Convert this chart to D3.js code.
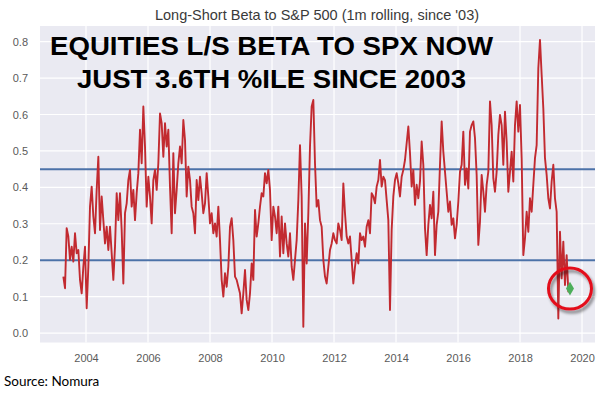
<!DOCTYPE html>
<html>
<head>
<meta charset="utf-8">
<script src="https://cdn.jsdelivr.net/npm/d3@7"></script>
<style>
  body { margin: 0; background: #fff; }
  svg { display: block; }
</style>
</head>
<body>
<div id="chart"></div>
<script>
// rolling long-short beta, sampled roughly every 0.054 yr from Apr 2003
const startYear = 2003.269
const stepYears = 0.05376
const betaValues = [
  0.155, 0.123, 0.288, 0.265, 0.201, 0.237, 0.196, 0.274, 0.219, 0.228,
  0.146, 0.109, 0.182, 0.237, 0.068, 0.182, 0.347, 0.402, 0.320, 0.274,
  0.393, 0.484, 0.283, 0.375, 0.310, 0.246, 0.292, 0.228, 0.292, 0.219,
  0.146, 0.237, 0.384, 0.310, 0.384, 0.283, 0.136, 0.329, 0.356, 0.420,
  0.448, 0.347, 0.393, 0.310, 0.384, 0.439, 0.558, 0.466, 0.622, 0.512,
  0.347, 0.429, 0.375, 0.301, 0.420, 0.448, 0.393, 0.466, 0.603, 0.576,
  0.484, 0.576, 0.512, 0.558, 0.402, 0.274, 0.494, 0.329, 0.393, 0.466,
  0.512, 0.466, 0.585, 0.530, 0.375, 0.457, 0.420, 0.347, 0.329, 0.274,
  0.420, 0.365, 0.429, 0.384, 0.329, 0.356, 0.439, 0.375, 0.301, 0.329,
  0.274, 0.301, 0.265, 0.347, 0.255, 0.146, 0.100, 0.164, 0.127, 0.182,
  // 2009 - 2013
  0.292, 0.315, 0.255, 0.155, 0.146, 0.127, 0.109, 0.054, 0.109, 0.173,
  0.091, 0.063, 0.109, 0.191, 0.146, 0.338, 0.265, 0.301, 0.347, 0.384,
  0.375, 0.439, 0.411, 0.448, 0.393, 0.255, 0.347, 0.320, 0.274, 0.347,
  0.210, 0.320, 0.219, 0.301, 0.246, 0.210, 0.274, 0.182, 0.146, 0.201,
  0.255, 0.365, 0.516, 0.375, 0.017, 0.301, 0.191, 0.329, 0.512, 0.622,
  0.640, 0.466, 0.347, 0.365, 0.310, 0.292, 0.201, 0.155, 0.136, 0.182,
  0.228, 0.246, 0.274, 0.255, 0.246, 0.301, 0.283, 0.255, 0.411, 0.329,
  0.265, 0.246, 0.265, 0.201, 0.136, 0.182, 0.219, 0.191, 0.274, 0.255,
  0.265, 0.237, 0.292, 0.310, 0.274, 0.384, 0.375, 0.356, 0.402, 0.420,
  0.475, 0.402, 0.429, 0.420, 0.365, 0.310, 0.063, 0.283, 0.375, 0.420,
  0.439, 0.411, 0.375, 0.429, 0.448, 0.475, 0.521, 0.567, 0.494, 0.402,
  0.448,
  // 2015 - 2019
  0.352, 0.407, 0.370, 0.416, 0.526, 0.462, 0.288, 0.214, 0.297, 0.352,
  0.315, 0.388, 0.214, 0.297, 0.333, 0.462, 0.581, 0.498, 0.443, 0.388,
  0.333, 0.361, 0.297, 0.315, 0.260, 0.297, 0.361, 0.443, 0.462, 0.553,
  0.407, 0.452, 0.397, 0.553, 0.571, 0.581, 0.535, 0.434, 0.242, 0.306,
  0.434, 0.388, 0.333, 0.407, 0.443, 0.636, 0.571, 0.425, 0.388, 0.443,
  0.544, 0.599, 0.571, 0.462, 0.608, 0.526, 0.388, 0.443, 0.498, 0.416,
  0.571, 0.636, 0.553, 0.626, 0.480, 0.214, 0.260, 0.333, 0.278, 0.370,
  0.333, 0.407, 0.480, 0.516, 0.727, 0.805, 0.709, 0.617, 0.480, 0.434,
  0.370, 0.342, 0.416, 0.462, 0.370, 0.333, 0.040, 0.278, 0.150, 0.251,
  0.132, 0.214, 0.114, 0.122
]
const refLines = [0.2, 0.45]
const yTicks = [0.0, 0.1, 0.2, 0.3, 0.4, 0.5, 0.6, 0.7, 0.8]
const xTicks = [2004, 2006, 2008, 2010, 2012, 2014, 2016, 2018, 2020]
const chartTitle = "Long-Short Beta to S&P 500 (1m rolling, since '03)"
const headline = ["EQUITIES L/S BETA TO SPX NOW", "JUST 3.6TH %ILE SINCE 2003"]
const sourceNote = "Source: Nomura"

const data = betaValues.map((v, i) => ({ year: startYear + i * stepYears, value: v }))
const lastPoint = data[data.length - 1]

const width = 610, height = 397
const margin = { top: 26, right: 15, bottom: 54.5, left: 40 }

const svg = d3.select("#chart").append("svg")
    .attr("width", width)
    .attr("height", height)
    .style("font-family", "'Liberation Sans', Arial, sans-serif")

const x = d3.scaleLinear()
    .domain([2002.516, 2020.419])
    .range([margin.left, width - margin.right])

const y = d3.scaleLinear()
    .domain([-0.026, 0.843])
    .range([height - margin.bottom, margin.top])

// drop shadow for the highlight ring
const defs = svg.append("defs")
defs.append("filter").attr("id", "shadow")
    .attr("x", "-50%").attr("y", "-50%").attr("width", "200%").attr("height", "200%")
    .append("feDropShadow")
    .attr("dx", 2).attr("dy", 3).attr("stdDeviation", 1.8)
    .attr("flood-color", "#000").attr("flood-opacity", 0.45)

// plot background
svg.append("rect")
    .attr("x", margin.left)
    .attr("y", margin.top)
    .attr("width", width - margin.right - margin.left)
    .attr("height", height - margin.bottom - margin.top)
    .attr("fill", "#eaeaf2")

// grid
svg.append("g")
    .selectAll("line")
    .data(yTicks)
    .join("line")
    .attr("x1", margin.left).attr("x2", width - margin.right)
    .attr("y1", d => y(d)).attr("y2", d => y(d))
    .attr("stroke", "#fff").attr("stroke-width", 1.2)

svg.append("g")
    .selectAll("line")
    .data(xTicks)
    .join("line")
    .attr("x1", d => x(d)).attr("x2", d => x(d))
    .attr("y1", margin.top).attr("y2", height - margin.bottom)
    .attr("stroke", "#fff").attr("stroke-width", 1.2)

// axes
const yAxis = svg.append("g")
    .attr("transform", `translate(${margin.left},0)`)
    .call(d3.axisLeft(y).tickValues(yTicks).tickFormat(d3.format(".1f")).tickSize(0).tickPadding(12))
yAxis.select(".domain").remove()

const xAxis = svg.append("g")
    .attr("transform", `translate(0,${height - margin.bottom})`)
    .call(d3.axisBottom(x).tickValues(xTicks).tickFormat(d3.format("d")).tickSize(0).tickPadding(12))
xAxis.select(".domain").remove()

svg.selectAll(".tick text")
    .attr("fill", "#5a5a5a")
    .style("font-size", "11px")

// reference lines
svg.append("g")
    .selectAll("line")
    .data(refLines)
    .join("line")
    .attr("x1", margin.left).attr("x2", width - margin.right)
    .attr("y1", d => y(d)).attr("y2", d => y(d))
    .attr("stroke", "#4c72a8").attr("stroke-width", 2)

// beta line
svg.append("path")
    .datum(data)
    .attr("fill", "none")
    .attr("stroke", "#c22a30")
    .attr("stroke-width", 1.9)
    .attr("stroke-linejoin", "round")
    .attr("d", d3.line().x(d => x(d.year)).y(d => y(d.value)))

// latest reading
svg.append("path")
    .attr("transform", `translate(${x(lastPoint.year)},${y(lastPoint.value)})`)
    .attr("d", d3.symbol(d3.symbolDiamond, 55)())
    .attr("fill", "#4cae5a")

svg.append("ellipse")
    .attr("cx", x(lastPoint.year))
    .attr("cy", y(lastPoint.value))
    .attr("rx", 21.5).attr("ry", 20.5)
    .attr("fill", "none")
    .attr("stroke", "#e3101a")
    .attr("stroke-width", 3)
    .attr("filter", "url(#shadow)")

// titles
svg.append("text")
    .attr("x", 317).attr("y", 20)
    .attr("text-anchor", "middle")
    .attr("fill", "#3a3a3a")
    .style("font-size", "14.5px")
    .text(chartTitle)

svg.append("text")
    .attr("x", 50).attr("y", 55)
    .attr("textLength", 443).attr("lengthAdjust", "spacingAndGlyphs")
    .style("font-size", "26px").style("font-weight", "bold")
    .attr("fill", "#000")
    .text(headline[0])

svg.append("text")
    .attr("x", 77).attr("y", 88)
    .attr("textLength", 389).attr("lengthAdjust", "spacingAndGlyphs")
    .style("font-size", "26px").style("font-weight", "bold")
    .attr("fill", "#000")
    .text(headline[1])

svg.append("text")
    .attr("x", 4).attr("y", 386)
    .attr("fill", "#000")
    .style("font-family", "Lato, 'Open Sans', sans-serif")
    .style("font-size", "13.5px")
    .text(sourceNote)
</script>
</body>
</html>
